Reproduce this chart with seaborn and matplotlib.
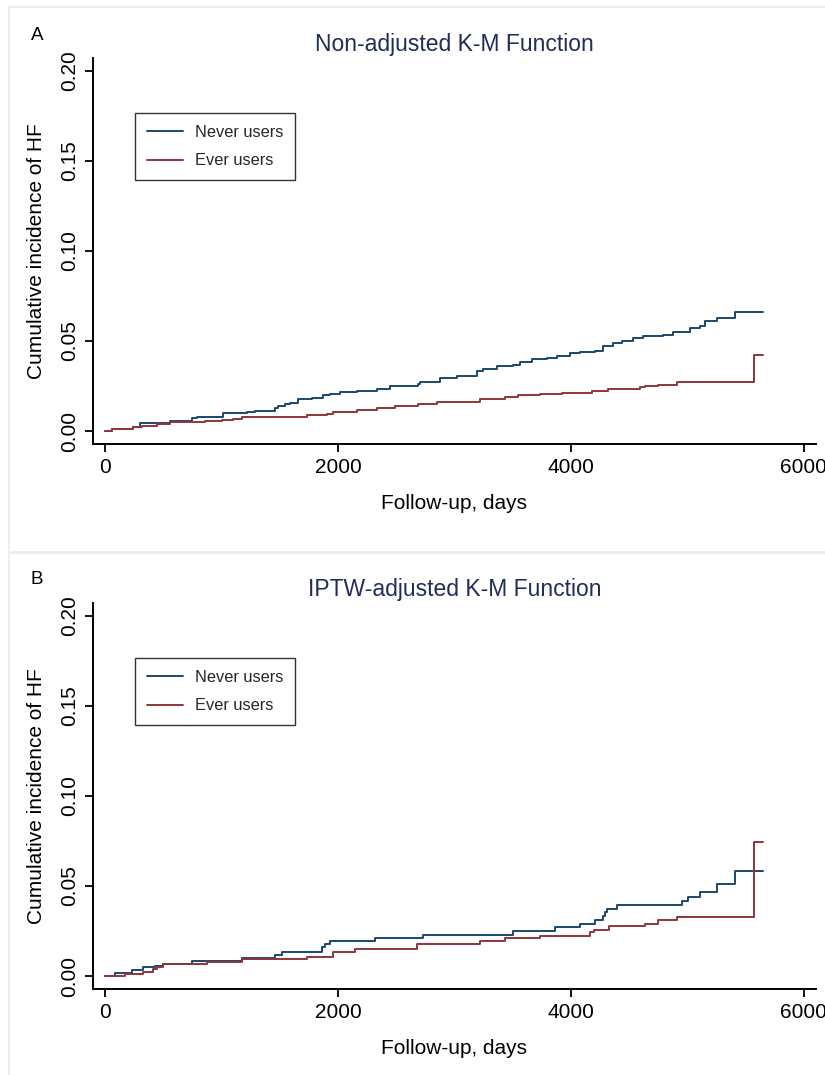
import numpy as np
import pandas as pd
import matplotlib
matplotlib.use("Agg")
import matplotlib.pyplot as plt
import seaborn as sns
from matplotlib.patches import Rectangle
from matplotlib.lines import Line2D

# ---------------- data ----------------
groups = ["Never users", "Ever users"]
x_ticks = [0, 2000, 4000, 6000]
y_ticks = [0.00, 0.05, 0.10, 0.15, 0.20]
y_tick_labels = ["0.00", "0.05", "0.10", "0.15", "0.20"]
titles = ["Non-adjusted K-M Function", "IPTW-adjusted K-M Function"]
panel_letters = ["A", "B"]

a_never_days = [0, 54, 240, 297, 340, 555, 742, 790, 1014, 1214, 1286, 1458, 1486, 1544,
                1587, 1658, 1773, 1873, 1930, 2016, 2160, 2332, 2446, 2689, 2705, 2876,
                3019, 3191, 3248, 3363, 3506, 3563, 3663, 3793, 3878, 3993, 4079, 4208,
                4279, 4365, 4437, 4537, 4623, 4795, 4881, 5024, 5110, 5153, 5254, 5411, 5649]
a_never_inc = [0, 0.0009, 0.0024, 0.0042, 0.0046, 0.0055, 0.0074, 0.0079, 0.0102, 0.0107,
               0.0113, 0.0126, 0.0139, 0.0148, 0.0153, 0.0178, 0.0181, 0.0200, 0.0207, 0.0215,
               0.0224, 0.0233, 0.0252, 0.0261, 0.0274, 0.0292, 0.0305, 0.0333, 0.0342, 0.0361,
               0.0367, 0.0385, 0.0398, 0.0407, 0.0416, 0.0431, 0.0441, 0.0446, 0.0472, 0.0487,
               0.0501, 0.0518, 0.0527, 0.0536, 0.0551, 0.0570, 0.0583, 0.0611, 0.0629, 0.0661,
               0.0661]

a_ever_days = [0, 54, 240, 311, 441, 556, 856, 1000, 1100, 1171, 1730, 1902, 1959, 2160,
               2332, 2489, 2689, 2847, 3219, 3434, 3549, 3735, 3921, 4179, 4322, 4594, 4640,
               4752, 4910, 5575, 5649]
a_ever_inc = [0, 0.0013, 0.0020, 0.0028, 0.0037, 0.0048, 0.0055, 0.0061, 0.0066, 0.0077,
              0.0089, 0.0094, 0.0107, 0.0115, 0.0126, 0.0139, 0.0150, 0.0160, 0.0178, 0.0191,
              0.0198, 0.0203, 0.0209, 0.0222, 0.0233, 0.0242, 0.0250, 0.0256, 0.0270, 0.0420,
              0.0420]

b_never_days = [0, 83, 226, 326, 426, 498, 742, 1171, 1458, 1515, 1859, 1888, 1930, 2317,
                2732, 3506, 3864, 4079, 4208, 4273, 4293, 4308, 4394, 4953, 5010, 5110, 5254,
                5411, 5649]
b_never_inc = [0, 0.0015, 0.0034, 0.0052, 0.0056, 0.0067, 0.0084, 0.0099, 0.0118, 0.0134,
               0.0164, 0.0177, 0.0192, 0.0209, 0.0230, 0.0248, 0.0271, 0.0289, 0.0310, 0.0332,
               0.0355, 0.0370, 0.0392, 0.0416, 0.0439, 0.0468, 0.0513, 0.0582, 0.0582]

b_ever_days = [0, 168, 326, 412, 441, 498, 870, 1171, 1730, 1959, 2145, 2675, 3219, 3434,
               3735, 4165, 4200, 4331, 4638, 4752, 4910, 5575, 5649]
b_ever_inc = [0, 0.0011, 0.0024, 0.0037, 0.0052, 0.0067, 0.0080, 0.0093, 0.0108, 0.0133,
              0.0151, 0.0179, 0.0196, 0.0213, 0.0224, 0.0243, 0.0257, 0.0276, 0.0291, 0.0310,
              0.0328, 0.0747, 0.0747]

# ---------------- style ----------------
sns.set_theme(style="ticks")
import matplotlib.font_manager as fm
names = {f.name for f in fm.fontManager.ttflist}
fam = ["Liberation Sans", "DejaVu Sans"] if "Liberation Sans" in names else ["DejaVu Sans"]
plt.rcParams["font.family"] = fam

NAVY = "#1a476f"
MAROON = "#90353b"
palette = {"Never users": NAVY, "Ever users": MAROON}

W, H = 825, 1075
fig = plt.figure(figsize=(W / 100, H / 100), dpi=100)
fig.patch.set_facecolor("white")

# panel frames (light)
border = "#e6eeef"
fig.add_artist(Rectangle((9 / W, 1 - 552 / H), (W - 6) / W, 545 / H, transform=fig.transFigure,
                         fill=False, edgecolor=border, lw=1.2))
fig.add_artist(Rectangle((9 / W, -0.01), (W - 6) / W, 1 - 553 / H + 0.01, transform=fig.transFigure,
                         fill=False, edgecolor=border, lw=1.2))

panels = [
    (a_never_days, a_never_inc, a_ever_days, a_ever_inc, 58, 444),
    (b_never_days, b_never_inc, b_ever_days, b_ever_inc, 603, 989),
]

for i, (nd, ni, ed, ei, top_px, bot_px) in enumerate(panels):
    left_px, right_px = 93, 816
    ax = fig.add_axes([left_px / W, 1 - bot_px / H, (right_px - left_px) / W, (bot_px - top_px) / H])
    df = pd.concat([
        pd.DataFrame({"days": nd, "inc": ni, "group": groups[0]}),
        pd.DataFrame({"days": ed, "inc": ei, "group": groups[1]}),
    ], ignore_index=True)
    sns.lineplot(data=df, x="days", y="inc", hue="group", hue_order=groups, palette=palette,
                 estimator=None, sort=False, drawstyle="steps-post", lw=1.4, ax=ax, legend=False)

    ax.set_xlim(-107, 6107)
    ax.set_ylim(-0.0072, 0.2072)
    ax.set_xticks(x_ticks)
    ax.set_xticklabels([str(t) for t in x_ticks], fontsize=15)
    ax.set_yticks(y_ticks)
    ax.set_yticklabels(y_tick_labels, fontsize=15, rotation=90, va="center")
    ax.tick_params(axis="both", direction="out", length=6, width=1.3, color="black",
                   labelcolor="black", pad=4)
    for s in ["top", "right"]:
        ax.spines[s].set_visible(False)
    for s in ["left", "bottom"]:
        ax.spines[s].set_linewidth(1.4)
        ax.spines[s].set_color("black")
    ax.set_xlabel("Follow-up, days", fontsize=15, color="black", labelpad=12)
    ax.set_ylabel("Cumulative incidence of HF", fontsize=15, color="black", labelpad=10)
    ax.set_title(titles[i], fontsize=16.5, color="#1f2d57", pad=5)
    ax.set_facecolor("white")

    handles = [Line2D([], [], color=palette[g], lw=1.4) for g in groups]
    leg = ax.legend(handles, groups, loc="upper left", bbox_to_anchor=(0.058, 0.8575),
                    borderaxespad=0, fontsize=11.8, frameon=True, fancybox=False,
                    edgecolor="#333333", framealpha=1, handlelength=2.2, handletextpad=0.75,
                    labelspacing=0.82, borderpad=0.72)
    leg.get_frame().set_linewidth(1.0)

    fig.text(31 / W, 1 - (top_px - 23) / H, panel_letters[i], fontsize=13.5, color="black",
             ha="left", va="center")

fig.savefig("out.png", dpi=100, facecolor="white")
